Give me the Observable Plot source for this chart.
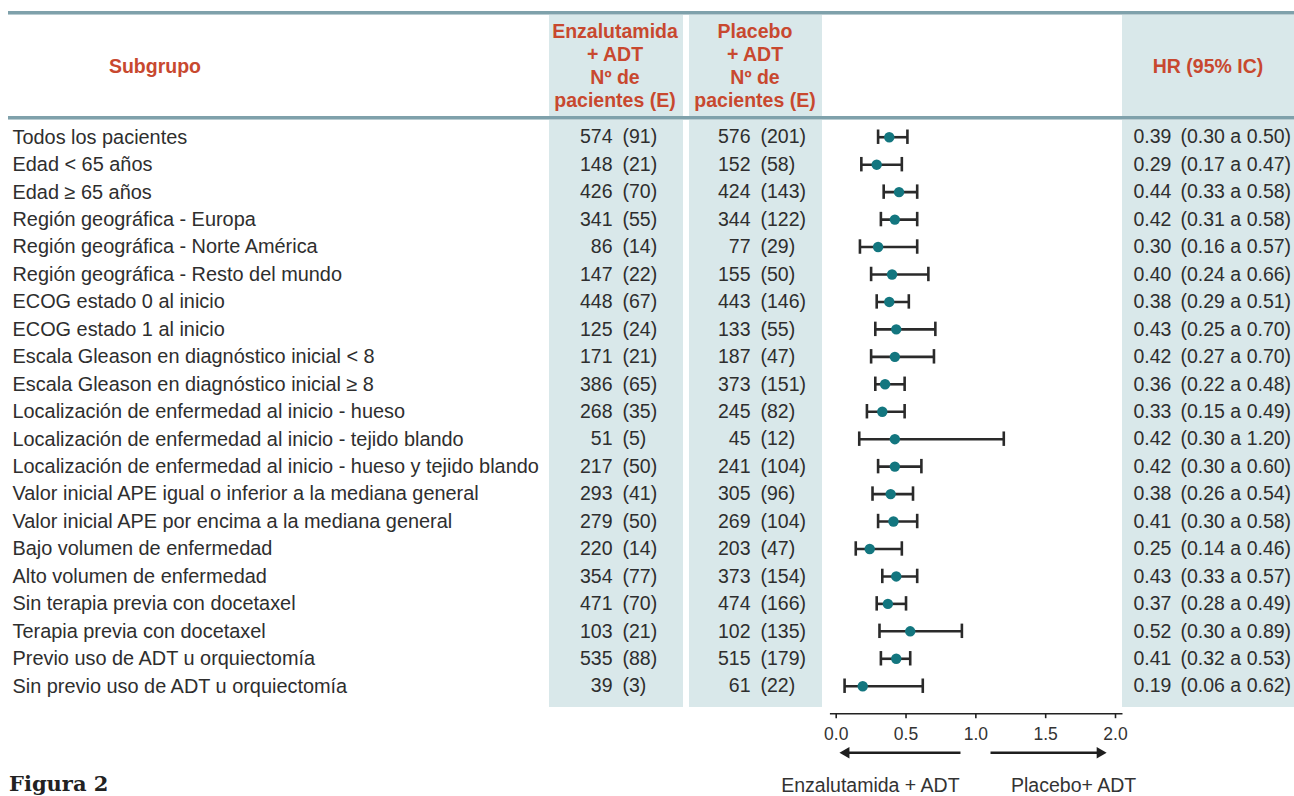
<!DOCTYPE html>
<html><head><meta charset="utf-8">
<script src="https://cdn.jsdelivr.net/npm/d3@7"></script>
<script src="https://cdn.jsdelivr.net/npm/@observablehq/plot@0.6"></script>
<style>
html,body{margin:0;padding:0;background:#fff;width:1294px;height:796px;overflow:hidden;font-family:"Liberation Sans",Arial,sans-serif;}
#wrap{position:relative;width:1294px;height:796px;}
.shade{position:absolute;background:#d9e8ea;}
.rule{position:absolute;left:8px;right:0;height:3px;background:#7fa1ab;border-bottom:1px solid #b9ccd1;}
.hd{position:absolute;color:#c8482f;font-weight:bold;font-size:19.5px;line-height:23px;text-align:center;}
#fig{position:absolute;left:9px;top:773px;font-family:"DejaVu Serif",serif;font-weight:bold;font-size:21px;line-height:21px;color:#222;}
svg{position:absolute;left:0;top:0;background:transparent !important;}
</style></head>
<body><div id="wrap">
<div class="shade" style="left:549px;width:134px;top:14px;height:693px"></div>
<div class="shade" style="left:689px;width:133px;top:14px;height:693px"></div>
<div class="shade" style="left:1122px;width:172px;top:14px;height:693px"></div>
<div class="rule" style="top:11px"></div>
<div class="rule" style="top:116px"></div>
<div class="hd" style="left:55px;width:200px;top:55px">Subgrupo</div>
<div class="hd" style="left:540px;width:150px;top:20px">Enzalutamida<br>+ ADT<br>Nº de<br>pacientes (E)</div>
<div class="hd" style="left:680px;width:150px;top:20px">Placebo<br>+ ADT<br>Nº de<br>pacientes (E)</div>
<div class="hd" style="left:1122px;width:172px;top:55px">HR (95% IC)</div>
<div id="fig">Figura 2</div>
</div>
<script>
const subgroups = [
  "Todos los pacientes","Edad < 65 años","Edad ≥ 65 años","Región geográfica - Europa",
  "Región geográfica - Norte América","Región geográfica - Resto del mundo","ECOG estado 0 al inicio",
  "ECOG estado 1 al inicio","Escala Gleason en diagnóstico inicial < 8","Escala Gleason en diagnóstico inicial ≥ 8",
  "Localización de enfermedad al inicio - hueso","Localización de enfermedad al inicio - tejido blando",
  "Localización de enfermedad al inicio - hueso y tejido blando","Valor inicial APE igual o inferior a la mediana general",
  "Valor inicial APE por encima a la mediana general","Bajo volumen de enfermedad","Alto volumen de enfermedad",
  "Sin terapia previa con docetaxel","Terapia previa con docetaxel","Previo uso de ADT u orquiectomía",
  "Sin previo uso de ADT u orquiectomía"];
const enzN = [574,148,426,341,86,147,448,125,171,386,268,51,217,293,279,220,354,471,103,535,39];
const enzE = [91,21,70,55,14,22,67,24,21,65,35,5,50,41,50,14,77,70,21,88,3];
const plaN = [576,152,424,344,77,155,443,133,187,373,245,45,241,305,269,203,373,474,102,515,61];
const plaE = [201,58,143,122,29,50,146,55,47,151,82,12,104,96,104,47,154,166,135,179,22];
const hrText = ["0.39","0.29","0.44","0.42","0.30","0.40","0.38","0.43","0.42","0.36","0.33","0.42","0.42","0.38","0.41","0.25","0.43","0.37","0.52","0.41","0.19"];
const ciText = ["(0.30 a 0.50)","(0.17 a 0.47)","(0.33 a 0.58)","(0.31 a 0.58)","(0.16 a 0.57)","(0.24 a 0.66)","(0.29 a 0.51)","(0.25 a 0.70)","(0.27 a 0.70)","(0.22 a 0.48)","(0.15 a 0.49)","(0.30 a 1.20)","(0.30 a 0.60)","(0.26 a 0.54)","(0.30 a 0.58)","(0.14 a 0.46)","(0.33 a 0.57)","(0.28 a 0.49)","(0.30 a 0.89)","(0.32 a 0.53)","(0.06 a 0.62)"];
// values as drawn in the plot
const hrPlot = [0.38,0.29,0.45,0.42,0.30,0.40,0.38,0.43,0.42,0.35,0.33,0.42,0.42,0.39,0.41,0.24,0.43,0.37,0.53,0.43,0.19];
const loPlot = [0.30,0.18,0.34,0.32,0.17,0.25,0.29,0.28,0.25,0.28,0.22,0.165,0.30,0.26,0.30,0.14,0.33,0.29,0.31,0.32,0.06];
const hiPlot = [0.51,0.47,0.58,0.58,0.58,0.66,0.52,0.71,0.70,0.49,0.49,1.20,0.61,0.55,0.58,0.47,0.58,0.50,0.90,0.53,0.62];
const xTicks = [0, 0.5, 1.0, 1.5, 2.0];
const axisExtent = [-0.045, 2.05];
const arrowLabels = ["Enzalutamida + ADT","Placebo+ ADT"];
const arrowFrom = [0.89, 1.105];
const arrowTo = [0.01, 1.95];
const arrowLabelX = [0.245, 1.70];

const AXIS = "__axis";
const rows = subgroups.map((s,i)=>({s, enzN:enzN[i], enzE:`(${enzE[i]})`, plaN:plaN[i], plaE:`(${plaE[i]})`,
  hrT:hrText[i], ciT:ciText[i], hr:hrPlot[i], lo:loPlot[i], hi:hiPlot[i]}));
const arrows = arrowLabels.map((l,i)=>({l, from:arrowFrom[i], to:arrowTo[i], dir: i===0 ? -1 : 1, lx:arrowLabelX[i]}));

const col = {label:12, enzN:612, enzE:622, plaN:750, plaE:760, hr:1133, ci:1180};
const txt = {fill:"#2e2e2e", fontSize:19.5, frameAnchor:"left", fontFamily:"Liberation Sans", y:"s"};
const ink = "#222";
const headBack = 0.061; // arrow head centroid offset (in x units)

const chart = Plot.plot({
  width:1294, height:796, marginLeft:0, marginRight:0, marginTop:0, marginBottom:0,
  style:{background:"transparent", overflow:"visible"},
  x: {domain:[0,2], range:[835.7,1115], axis:null},
  y: {domain:[...subgroups, AXIS], range:[123, 123 + 22*27.45], padding:0, round:false, axis:null},
  marks:[
    // table text
    Plot.text(rows,{...txt, fontSize:19.9, text:"s", textAnchor:"start", dx:col.label}),
    Plot.text(rows,{...txt, text:"enzN", textAnchor:"end", dx:col.enzN}),
    Plot.text(rows,{...txt, text:"enzE", textAnchor:"start", dx:col.enzE}),
    Plot.text(rows,{...txt, text:"plaN", textAnchor:"end", dx:col.plaN}),
    Plot.text(rows,{...txt, text:"plaE", textAnchor:"start", dx:col.plaE}),
    Plot.text(rows,{...txt, text:"hrT", textAnchor:"start", dx:col.hr}),
    Plot.text(rows,{...txt, text:"ciT", textAnchor:"start", dx:col.ci}),
    // forest
    Plot.link(rows,{x1:"lo", x2:"hi", y1:"s", y2:"s", stroke:"#2a2a2a", strokeWidth:2.6}),
    Plot.tickX(rows,{x:"lo", y:"s", stroke:"#2a2a2a", strokeWidth:2.6, insetTop:6.5, insetBottom:6.5}),
    Plot.tickX(rows,{x:"hi", y:"s", stroke:"#2a2a2a", strokeWidth:2.6, insetTop:6.5, insetBottom:6.5}),
    Plot.dot(rows,{x:"hr", y:"s", r:5.2, fill:"#13767f", stroke:"none"}),
    // x axis
    Plot.link([axisExtent],{x1:d=>d[0], x2:d=>d[1], y1:()=>AXIS, y2:()=>AXIS, stroke:ink, strokeWidth:1.6}),
    Plot.tickX(xTicks,{x:d=>d, y:()=>AXIS, stroke:ink, strokeWidth:1.6, insetTop:13.7, insetBottom:8.7}),
    Plot.text(xTicks,{x:d=>d, y:()=>AXIS, text:d=>d.toFixed(1), dy:21, fontSize:17.5, fill:"#333", fontFamily:"Liberation Sans"}),
    // direction arrows
    Plot.link(arrows,{x1:"from", x2:d=>d.to - d.dir*headBack, y1:()=>AXIS, y2:()=>AXIS, dy:39, stroke:"#1e1e1e", strokeWidth:2.6}),
    Plot.dot(arrows,{x:d=>d.to - d.dir*headBack, y:()=>AXIS, dy:39, symbol:"triangle2", r:5.5, rotate:d=>d.dir*90, fill:"#1e1e1e", stroke:"none"}),
    Plot.text(arrows,{x:"lx", y:()=>AXIS, dy:72, text:"l", fontSize:19.5, fill:"#333", fontFamily:"Liberation Sans"})
  ]
});
document.getElementById("wrap").appendChild(chart);
</script>
</body></html>
